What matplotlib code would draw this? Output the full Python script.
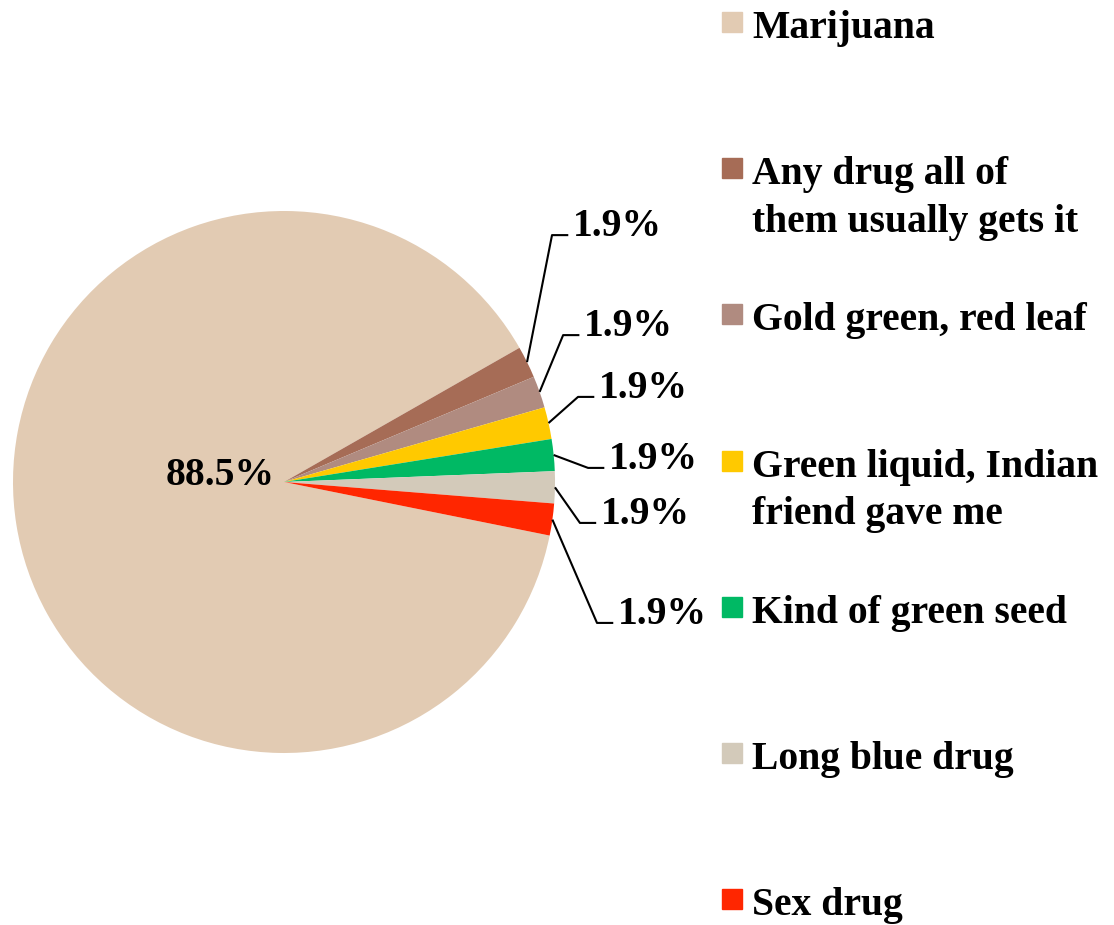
import matplotlib.pyplot as plt
from matplotlib.patches import Rectangle
import numpy as np

categories = ["Marijuana", "Any drug all of\nthem usually gets it", "Gold green, red leaf",
              "Green liquid, Indian\nfriend gave me", "Kind of green seed",
              "Long blue drug", "Sex drug"]
percents = [88.5, 1.9, 1.9, 1.9, 1.9, 1.9, 1.9]
colors = ["#E2CBB3", "#A66C56", "#B08B80", "#FFC900", "#00B964", "#D3CABA", "#FF2600"]

# elbow points of the leader lines for the small slices (data units, radius 1)
elbows = [(0.989, 0.911), (1.030, 0.542), (1.085, 0.314), (1.122, 0.052),
          (1.092, -0.151), (1.155, -0.520)]

FONT = "Liberation Serif"
FS = 28.5
W, H = 1114, 925

fig = plt.figure(figsize=(W / 100, H / 100), dpi=100)
cx, cy, r = 284, 482, 271
ax = fig.add_axes([(cx - r) / W, (H - cy - r) / H, 2 * r / W, 2 * r / H])

vals = np.array(percents)
start = -11.4
wedges, _ = ax.pie(vals, colors=colors, startangle=start, counterclock=False,
                   radius=1, wedgeprops=dict(linewidth=0))
ax.set_xlim(-1, 1)
ax.set_ylim(-1, 1)
ax.set_aspect("equal")
ax.axis("off")

# big slice label
ax.text(-0.234, 0.025, f"{percents[0]:.1f}%", ha="center", va="center",
        fontsize=FS, fontweight="bold", fontfamily=FONT)

# small slice labels with leader lines
for w, p, (ex, ey) in zip(wedges[1:], percents[1:], elbows):
    mid = np.deg2rad((w.theta1 + w.theta2) / 2)
    x0, y0 = np.cos(mid), np.sin(mid)
    ax.plot([x0, ex, ex + 0.06], [y0, ey, ey], color="black", lw=1.5,
            clip_on=False, solid_capstyle="butt")
    ax.text(ex + 0.078, ey + 0.030, f"{p:.1f}%", ha="left", va="center",
            fontsize=FS, fontweight="bold", fontfamily=FONT, clip_on=False)

# legend
for i, (lab, c) in enumerate(zip(categories, colors)):
    top = 12 + 146.2 * i
    fig.patches.append(Rectangle((722 / W, 1 - (top + 20) / H), 20 / W, 20 / H,
                                 transform=fig.transFigure, color=c))
    fig.text(752 / W, 1 - (top - 2) / H, lab, ha="left", va="top",
             fontsize=FS, fontweight="bold", fontfamily=FONT, linespacing=1.38)

fig.savefig("out.png", dpi=100)
